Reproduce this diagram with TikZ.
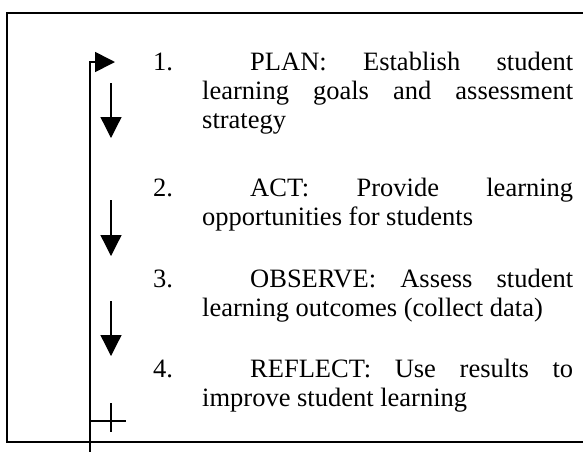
\documentclass[tikz,border=0pt]{standalone}
\usepackage{fontspec}
\setmainfont{Liberation Serif}
\usetikzlibrary{arrows.meta}
\tikzset{
  frame/.style={line width=2pt},
  loopline/.style={line width=1.7pt},
  down/.style={line width=1.3pt,-{Triangle[length=21pt,width=21pt]}},
  tick/.style={line width=1.3pt},
  txt/.style={anchor=base west,inner sep=0pt,font=\fontsize{26.5}{30}\selectfont},
}
\begin{document}
\begin{tikzpicture}[x=1pt,y=-1pt]
\fill[white] (0,0) rectangle (583,451);
\useasboundingbox (0,0) rectangle (583,451);
% frame (right side runs off the picture)
\draw[frame] (583,13) -- (7,13) -- (7,442) -- (583,442);
% text
\node[txt] (n1) at (153,70) {1.};
\node[txt] (p1a) at (250,70) {\hbox to 323pt{PLAN:\hfill Establish\hfill student}};
\node[txt] (p1b) at (202,99) {\hbox to 371pt{learning\hfill goals\hfill and\hfill assessment}};
\node[txt] (p1c) at (202,128) {strategy};
\node[txt] (n2) at (153,196) {2.};
\node[txt] (p2a) at (250,196) {\hbox to 323pt{ACT:\hfill Provide\hfill learning}};
\node[txt] (p2b) at (202,225) {opportunities for students};
\node[txt] (n3) at (153,287) {3.};
\node[txt] (p3a) at (250,287) {\hbox to 323pt{OBSERVE:\hfill Assess\hfill student}};
\node[txt] (p3b) at (202,316) {learning outcomes (collect data)};
\node[txt] (n4) at (153,377) {4.};
\node[txt] (p4a) at (250,377) {\hbox to 323pt{REFLECT:\hfill Use\hfill results\hfill to}};
\node[txt] (p4b) at (202,406) {improve student learning};
% feedback loop
\coordinate (loopbot) at (90,452);
\coordinate (loopcorner) at (90,62);
\coordinate (looptip) at (115,62);
\draw[loopline,-{Triangle[length=20pt,width=20pt]}] (loopbot) -- (loopcorner) -- (looptip);
% down arrows
\coordinate (a1s) at (111,83);  \coordinate (a1e) at (111,138);
\coordinate (a2s) at (111,200); \coordinate (a2e) at (111,256);
\coordinate (a3s) at (111,301); \coordinate (a3e) at (111,356);
\draw[down] (a1s) -- (a1e);
\draw[down] (a2s) -- (a2e);
\draw[down] (a3s) -- (a3e);
% cross mark
\coordinate (ch1) at (90,421); \coordinate (ch2) at (126,421);
\coordinate (cv1) at (111,403); \coordinate (cv2) at (111,432);
\draw[tick] (ch1) -- (ch2);
\draw[tick] (cv1) -- (cv2);
\end{tikzpicture}
\end{document}
